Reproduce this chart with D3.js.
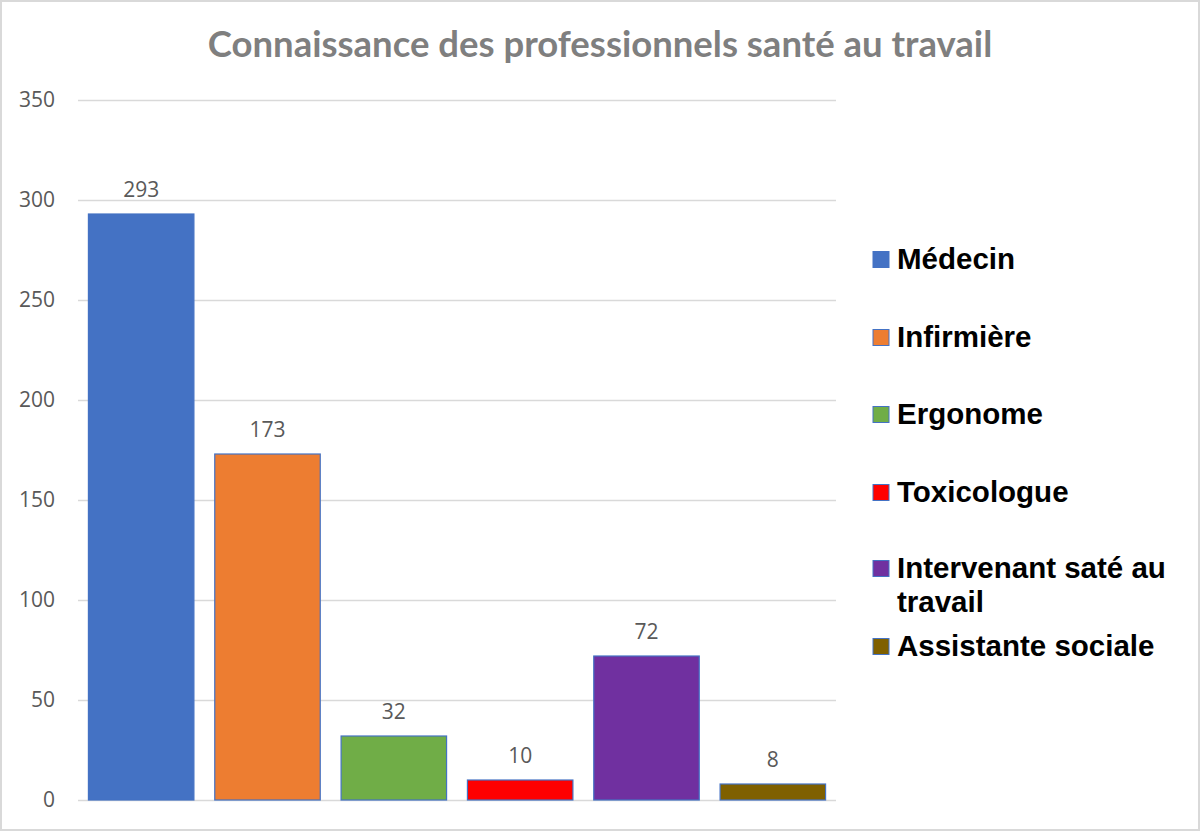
<!DOCTYPE html>
<html><head><meta charset="utf-8">
<script src="https://cdn.jsdelivr.net/npm/d3@7"></script>
<style>body{margin:0;background:#fff;}</style>
</head><body>
<svg id="chart" width="1200" height="831"></svg>
<script>
const categories = ["Médecin", "Infirmière", "Ergonome", "Toxicologue", "Intervenant saté au travail", "Assistante sociale"];
const legendLines = [["Médecin"], ["Infirmière"], ["Ergonome"], ["Toxicologue"], ["Intervenant saté au", "travail"], ["Assistante sociale"]];
const values = [293, 173, 32, 10, 72, 8];
const colors = ["#4472C4", "#ED7D31", "#70AD47", "#FF0000", "#7030A0", "#7F6000"];
const yTicks = [0, 50, 100, 150, 200, 250, 300, 350];
const title = "Connaissance des professionnels santé au travail";

const svg = d3.select("#chart");
svg.append("rect").attr("x", 1).attr("y", 1).attr("width", 1198).attr("height", 829)
  .attr("fill", "#fff").attr("stroke", "#d9d9d9").attr("stroke-width", 2);

const x = d3.scaleBand().domain(categories).range([78, 836]).paddingInner(0.165).paddingOuter(0.0825);
const y = d3.scaleLinear().domain([0, 350]).range([800, 100]);

svg.append("text").attr("x", 600).attr("y", 57).attr("text-anchor", "middle")
  .attr("font-family", "Lato, 'Open Sans', sans-serif").attr("font-weight", "bold")
  .attr("font-size", 36.5).attr("fill", "#7f7f7f").text(title);

const yAxis = d3.axisLeft(y).tickValues(yTicks).tickSize(-(836 - 78)).tickPadding(23);
const ga = svg.append("g").attr("transform", "translate(78,0)").call(yAxis);
ga.select(".domain").remove();
ga.selectAll(".tick line").attr("stroke", "#d9d9d9").attr("stroke-width", 1.3);
ga.selectAll(".tick text").attr("font-family", "'Open Sans', Lato, sans-serif")
  .attr("font-size", 21).attr("fill", "#595959");

svg.append("g").selectAll("rect").data(values).join("rect")
  .attr("x", (d, i) => x(categories[i]))
  .attr("y", d => y(d))
  .attr("width", x.bandwidth())
  .attr("height", d => y(0) - y(d))
  .attr("fill", (d, i) => colors[i])
  .attr("stroke", "#4472C4").attr("stroke-width", 1.2);

svg.append("g").selectAll("text").data(values).join("text")
  .attr("x", (d, i) => x(categories[i]) + x.bandwidth() / 2)
  .attr("y", d => y(d) - 17)
  .attr("text-anchor", "middle")
  .attr("font-family", "'Open Sans', Lato, sans-serif").attr("font-size", 21)
  .attr("fill", "#595959").text(d => d);

const legendY = [259, 337, 414, 492, 568, 646];
const lg = svg.append("g");
legendLines.forEach((lines, i) => {
  lg.append("rect").attr("x", 873).attr("y", legendY[i] - 7.5).attr("width", 16).attr("height", 16)
    .attr("fill", colors[i]).attr("stroke", "#4472C4").attr("stroke-width", 1);
  const t = lg.append("text").attr("x", 897).attr("y", legendY[i] + 10)
    .attr("font-family", "'Liberation Sans', Arial, sans-serif").attr("font-weight", "bold")
    .attr("font-size", 29.5).attr("fill", "#000");
  lines.forEach((l, j) => t.append("tspan").attr("x", 897).attr("dy", j === 0 ? 0 : 34).text(l));
});
</script>
</body></html>
